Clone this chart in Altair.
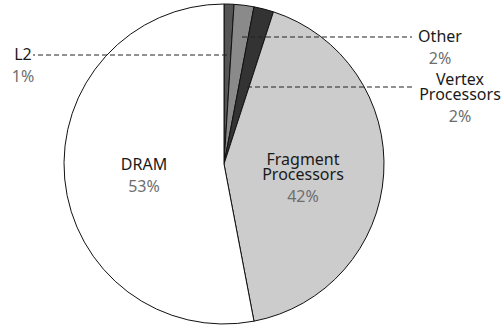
import altair as alt
import pandas as pd

# Share of GPU power by component (percent), clockwise from 12 o'clock
components = ["L2", "Other", "Vertex Processors", "Fragment Processors", "DRAM"]
shares = [1, 2, 2, 42, 53]
fills = ["#555555", "#8a8a8a", "#333333", "#cccccc", "#ffffff"]

# Label placement (pixels): label-block centre, and dashed leader for small slices
label_x = [23, 440, 460, 303, 144]
label_y = [55, 37, 87, 167, 165]
leader_x1 = [227, 242, 247, None, None]
leader_x2 = [33, 412, 412, None, None]

FONT = "Noto Sans"
LINE_H = 15

slices = pd.DataFrame({
    "component": components,
    "share": shares,
    "order": list(range(len(components))),
})

labels = pd.DataFrame({
    "component": components,
    "pct": [f"{s}%" for s in shares],
    "lx": label_x,
    "ly": label_y,
})
# multi-line names start at their first line, so centre the block by hand
half_block = (labels["component"].str.count(" ")) * LINE_H / 2
labels["ny"] = labels["ly"] - half_block
labels["py"] = labels["ly"] + half_block + 22

leaders = pd.DataFrame({
    "x1": leader_x1,
    "x2": leader_x2,
    "y": label_y,
}).dropna()

pie = alt.Chart(slices).mark_arc(
    radius=160, stroke="#111111", strokeWidth=1
).encode(
    theta=alt.Theta("share:Q", stack=True),
    order=alt.Order("order:Q"),
    color=alt.Color(
        "component:N",
        scale=alt.Scale(domain=components, range=fills),
        legend=None,
    ),
    x=alt.value(224),
    y=alt.value(164),
)

leader_lines = alt.Chart(leaders).mark_rule(
    color="#222222", strokeWidth=1, strokeDash=[5, 3]
).encode(
    x=alt.X("x1:Q", scale=None),
    x2="x2:Q",
    y=alt.Y("y:Q", scale=None),
)

names = alt.Chart(labels).mark_text(
    font=FONT, fontSize=16, color="#1a1a1a", align="center",
    baseline="middle", lineBreak=" ", lineHeight=LINE_H,
).encode(
    x=alt.X("lx:Q", scale=None),
    y=alt.Y("ny:Q", scale=None),
    text="component:N",
)

pcts = alt.Chart(labels).mark_text(
    font=FONT, fontSize=16, color="#6e6e6e",
    align="center", baseline="middle",
).encode(
    x=alt.X("lx:Q", scale=None),
    y=alt.Y("py:Q", scale=None),
    text="pct:N",
)

chart = alt.layer(pie, leader_lines, names, pcts).properties(
    width=504,
    height=326,
    autosize=alt.AutoSizeParams(type="none"),
    padding=0,
).configure_view(stroke=None)

chart.save("out.html", embed_options={"renderer": "svg", "actions": False})
